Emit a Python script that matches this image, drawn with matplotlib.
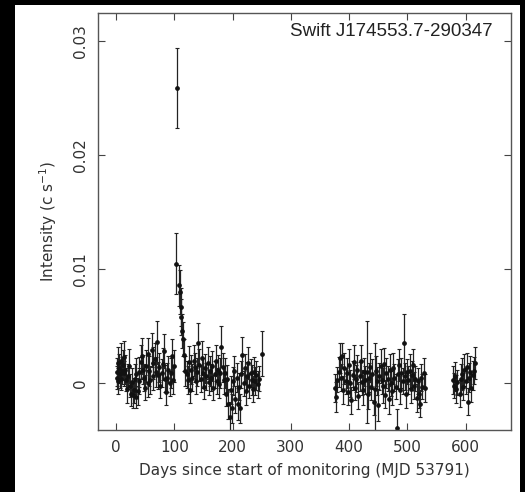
import matplotlib
matplotlib.use('Agg')
import matplotlib.pyplot as plt
from matplotlib.patches import Rectangle
import numpy as np

# Light curve values, in units of 1e-3 c/s
# First monitoring block (days 0-250)
days_a = [1, 2, 3, 4, 5, 7, 8, 9, 10, 12,
          13, 14, 16, 17, 19, 21, 22, 24, 26, 27,
          29, 30, 32, 34, 35, 37, 39, 40, 42, 44,
          46, 48, 50, 52, 54, 55, 57, 59, 61, 63,
          64, 66, 68, 70, 72, 74, 76, 78, 80, 82,
          84, 86, 88, 90, 92, 94, 96, 98, 100, 103,
          105, 108, 110, 111, 112, 113, 115, 117, 119, 121,
          123, 125, 127, 129, 131, 133, 135, 137, 139, 141,
          143, 145, 147, 149, 151, 153, 155, 157, 159, 161,
          163, 165, 167, 169, 171, 173, 175, 177, 179, 181,
          183, 185, 187, 189, 191, 193, 195, 197, 199, 201,
          203, 205, 207, 209, 211, 213, 215, 217, 219, 221,
          223, 225, 227, 229, 231, 233, 235, 237, 239, 241,
          243, 245, 250]
rate_a = [1.0, 0.5, 1.8, 0.2, 1.3, 0.8, 2.0, 0.4, 1.1, 1.6,
          0.9, 2.3, 1.2, 0.3, -0.5, 0.6, 1.5, -0.2, -0.9, 0.1,
          -1.0, -0.6, 0.4, -1.2, 0.8, -0.7, 1.0, 0.2, 1.9, 2.4,
          1.2, 0.5, -0.4, 1.5, 0.0, 2.6, 1.1, 0.3, 2.9, 1.8,
          0.6, 2.1, 1.0, 3.6, 0.7, 1.4, -0.2, 0.9, 1.7, 2.8,
          0.4, -0.8, 0.5, 1.2, 0.0, 0.9, 2.4, 0.3, 1.5, 10.5,
          25.9, 8.6, 8.0, 6.7, 5.8, 4.6, 3.9, 2.5, 1.1, 0.8,
          0.3, 1.9, -0.6, 1.2, 0.5, 2.0, 1.4, 0.2, 1.0, 3.5,
          1.6, 0.4, 2.2, 0.9, -0.3, 1.3, 0.6, 1.8, 0.1, 1.1,
          0.5, 1.5, -0.4, 0.8, 2.0, 0.2, 1.2, -0.1, 0.9, 3.2,
          1.4, 0.3, 0.9, -0.9, 0.4, -1.8, -3.0, -0.6, -2.2, 0.2,
          1.1, -1.4, 0.5, -1.8, -0.3, -2.2, 0.8, 2.5, 0.0, 1.3,
          -0.7, 0.6, 1.8, -0.2, 0.9, 0.3, -0.5, 1.0, 0.2, 0.7,
          -0.1, 0.4, 2.6]
err_a = [1.2, 1.0, 1.4, 1.1, 1.3, 1.2, 1.5, 1.0, 1.2, 1.3,
         1.1, 1.4, 1.3, 1.0, 1.2, 1.1, 1.5, 1.0, 1.1, 1.2,
         1.2, 1.1, 1.3, 1.0, 1.4, 1.2, 1.3, 1.1, 1.5, 1.6,
         1.3, 1.2, 1.1, 1.4, 1.2, 1.4, 1.3, 1.2, 1.5, 1.4,
         1.2, 1.4, 1.3, 1.9, 1.2, 1.3, 1.1, 1.2, 1.4, 1.5,
         1.2, 1.1, 1.3, 1.2, 1.1, 1.3, 1.5, 1.2, 1.4, 2.7,
         3.5, 1.8, 1.9, 1.7, 1.6, 1.5, 1.5, 1.4, 1.3, 1.2,
         1.2, 1.4, 1.1, 1.3, 1.2, 1.4, 1.3, 1.1, 1.2, 1.8,
         1.4, 1.2, 1.5, 1.3, 1.1, 1.3, 1.2, 1.4, 1.1, 1.3,
         1.2, 1.3, 1.1, 1.2, 1.4, 1.1, 1.3, 1.2, 1.3, 1.8,
         1.3, 1.2, 1.3, 1.1, 1.2, 1.3, 1.4, 1.2, 1.3, 1.2,
         1.3, 1.2, 1.3, 1.4, 1.2, 1.3, 1.2, 1.6, 1.1, 1.3,
         1.2, 1.3, 1.4, 1.1, 1.2, 1.3, 1.1, 1.3, 1.2, 1.3,
         1.2, 1.1, 2.0]

# Second monitoring block (days 375-530)
days_b = [376, 378, 380, 382, 384, 386, 388, 390, 392, 394,
          396, 398, 400, 402, 404, 406, 408, 410, 412, 414,
          416, 418, 420, 422, 424, 426, 428, 430, 432, 434,
          436, 438, 440, 442, 444, 446, 448, 450, 452, 454,
          456, 458, 460, 462, 464, 466, 468, 470, 472, 474,
          476, 478, 480, 482, 484, 486, 488, 490, 492, 494,
          496, 498, 500, 502, 504, 506, 508, 510, 512, 514,
          516, 518, 520, 522, 524, 526, 528, 530]
rate_b = [-0.4, -1.2, 0.3, 1.0, 2.2, 0.5, 2.4, -0.6, 1.3, 0.2,
          0.9, -0.8, 1.6, 0.0, -1.5, 0.7, 1.9, -0.4, 0.4, 1.2,
          -1.1, 0.6, 2.0, 0.1, -0.6, 1.0, 0.3, 1.0, -0.9, 0.5,
          1.4, -0.3, 0.8, -1.6, -0.5, 1.1, 0.2, -1.9, 0.6, 1.5,
          0.3, -0.2, 1.7, -1.0, 0.9, 0.4, -1.4, 1.2, 0.0, -0.7,
          1.3, 0.5, -0.3, -3.9, 0.8, 1.6, -0.6, 0.9, 0.2, 3.5,
          0.6, -0.9, 1.0, 0.3, 1.1, -0.5, 0.7, 1.6, -0.2, 0.4,
          -1.3, 0.2, -0.9, -1.8, 0.5, -0.3, 0.9, -0.4]
err_b = [1.2, 1.3, 1.1, 1.3, 1.3, 1.2, 1.1, 1.2, 1.4, 1.1,
         1.3, 1.1, 1.4, 1.2, 1.2, 1.3, 1.5, 1.1, 1.2, 1.3,
         1.2, 1.3, 1.4, 1.1, 1.3, 1.2, 1.2, 4.5, 1.4, 1.3,
         1.3, 1.2, 1.3, 1.2, 4.0, 1.3, 1.2, 1.4, 1.2, 1.5,
         1.2, 1.5, 1.4, 1.2, 1.3, 1.1, 1.3, 1.4, 1.1, 1.2,
         1.4, 1.2, 1.1, 1.6, 1.3, 1.4, 1.2, 1.3, 1.1, 2.6,
         1.2, 1.3, 1.1, 1.2, 1.5, 1.2, 1.3, 1.4, 1.2, 1.1,
         1.2, 1.1, 1.3, 1.2, 1.2, 1.1, 1.3, 1.2]

# Third monitoring block (days 575-620)
days_c = [578, 580, 582, 584, 586, 590, 592, 594, 596, 598,
          600, 602, 604, 606, 608, 610, 612, 614, 616]
rate_c = [0.3, -0.2, 0.6, -0.5, 0.1, -0.9, 0.4, 0.8, -0.3, 1.2,
          0.2, 1.4, -1.6, 0.5, 1.0, -0.4, 0.7, 1.1, 1.8]
err_c = [1.2, 1.1, 1.3, 1.2, 1.1, 1.2, 1.3, 1.4, 1.2, 1.4,
         1.1, 1.3, 1.2, 1.3, 1.4, 1.2, 1.3, 1.2, 1.4]

x_ticks = [0, 100, 200, 300, 400, 500, 600]
y_ticks = [0, 0.01, 0.02, 0.03]
y_tick_labels = ['0', '0.01', '0.02', '0.03']

fig = plt.figure(figsize=(5.25, 4.92), dpi=100)
fig.patch.set_facecolor('black')
# white page area inside the black border, kept behind the axes
fig.patches.append(Rectangle((15 / 525, 0), 505 / 525, 487 / 492,
                             transform=fig.transFigure, facecolor='white',
                             edgecolor='none', zorder=-10))

ax = fig.add_axes([0.1867, 0.126, 0.7866, 0.8476])
ax.set_zorder(1)

for d, r, e in [(days_a, rate_a, err_a), (days_b, rate_b, err_b), (days_c, rate_c, err_c)]:
    ax.errorbar(d, np.array(r) / 1000.0, yerr=np.array(e) / 1000.0,
                fmt='o', ms=2.4, color='#111111', ecolor='#222222',
                elinewidth=0.9, capsize=1.6, capthick=0.8)

ax.set_xlim(-31, 678)
ax.set_ylim(-0.0041, 0.0325)

ax.set_xticks(x_ticks)
ax.set_yticks(y_ticks)
ax.set_yticklabels(y_tick_labels, rotation=90, va='center')
ax.tick_params(direction='in', length=5, width=0.8, top=True, right=True,
               labelsize=11, labelcolor='#333333', color='#444444', pad=7)

for s in ax.spines.values():
    s.set_color('#555555')
    s.set_linewidth(1.0)

ax.set_xlabel('Days since start of monitoring (MJD 53791)', fontsize=11,
              color='#333333', labelpad=6)
ax.set_ylabel('Intensity (c s$^{-1}$)', fontsize=11, color='#333333', labelpad=10)

ax.text(0.955, 0.955, 'Swift J174553.7-290347', transform=ax.transAxes,
        ha='right', va='center', fontsize=13.5, family='Liberation Sans',
        color='#222222')

fig.savefig('out.png', dpi=100, facecolor=fig.get_facecolor())
